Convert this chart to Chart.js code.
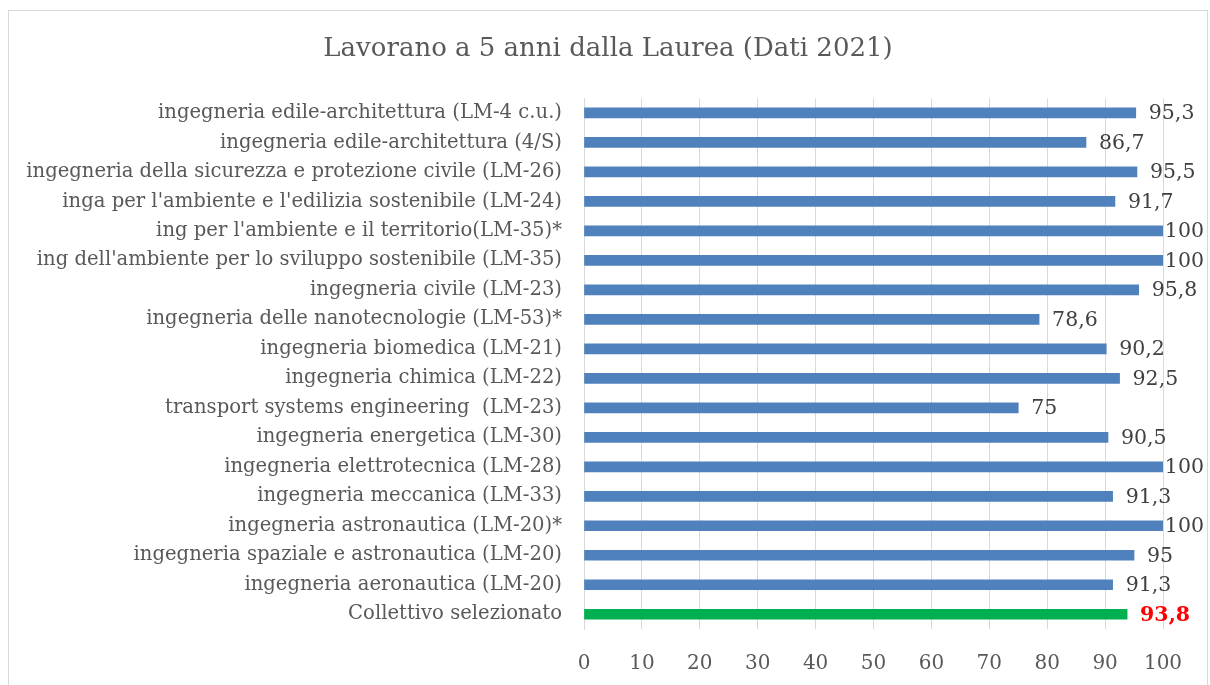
<!DOCTYPE html>
<html>
<head>
<meta charset="utf-8">
<script src="https://cdn.jsdelivr.net/npm/chart.js@4/dist/chart.umd.min.js"></script>
<style>
    html, body { margin: 0; padding: 0; background: #fff; }
    #frame {
        position: absolute; left: 8px; top: 10px;
        width: 1200px; height: 676px;
        border: 1px solid #d9d9d9; box-sizing: border-box;
    }
    #wrap { position: absolute; left: 0; top: 0; width: 1198px; height: 674px; }
</style>
</head>
<body>
<div id="frame"><div id="wrap"><canvas id="lavoroChart"></canvas></div></div>
<script>
// ==========================================
// DATI
// ==========================================

const chartTitle = 'Lavorano a 5 anni dalla Laurea (Dati 2021)';

const corsi = [
    'ingegneria edile-architettura (LM-4 c.u.)',
    'ingegneria edile-architettura (4/S)',
    'ingegneria della sicurezza e protezione civile (LM-26)',
    "inga per l'ambiente e l'edilizia sostenibile (LM-24)",
    "ing per l'ambiente e il territorio(LM-35)*",
    "ing dell'ambiente per lo sviluppo sostenibile (LM-35)",
    'ingegneria civile (LM-23)',
    'ingegneria delle nanotecnologie (LM-53)*',
    'ingegneria biomedica (LM-21)',
    'ingegneria chimica (LM-22)',
    'transport systems engineering  (LM-23)',
    'ingegneria energetica (LM-30)',
    'ingegneria elettrotecnica (LM-28)',
    'ingegneria meccanica (LM-33)',
    'ingegneria astronautica (LM-20)*',
    'ingegneria spaziale e astronautica (LM-20)',
    'ingegneria aeronautica (LM-20)',
    'Collettivo selezionato'
];

const percentuali = [95.3, 86.7, 95.5, 91.7, 100, 100, 95.8, 78.6, 90.2, 92.5, 75, 90.5, 100, 91.3, 100, 95, 91.3, 93.8];

const xTicks = [0, 10, 20, 30, 40, 50, 60, 70, 80, 90, 100];

// ==========================================
// GRAFICO
// ==========================================

const FONT = '"DejaVu Serif", "Liberation Serif", serif';
const BLU = '#4f81bd';
const VERDE = '#00b050';

function fmt(v) {
    return String(v).replace('.', ',');
}

// etichette valore a destra delle barre
const valueLabels = {
    id: 'valueLabels',
    afterDatasetsDraw(chart) {
        const ctx = chart.ctx;
        const meta = chart.getDatasetMeta(0);
        const limit = chart.width - 3;
        ctx.save();
        ctx.textBaseline = 'middle';
        meta.data.forEach((bar, i) => {
            const totale = i === percentuali.length - 1;
            ctx.font = (totale ? 'bold ' : '') + '20.5px ' + FONT;
            ctx.fillStyle = totale ? '#ff0000' : '#404040';
            const txt = fmt(percentuali[i]);
            const w = ctx.measureText(txt).width;
            let x = bar.x + 13;
            if (x + w > limit) x = limit - w;
            ctx.fillText(txt, x, bar.y + 1);
        });
        ctx.restore();
    }
};

const ctx = document.getElementById('lavoroChart').getContext('2d');
const lavoroChart = new Chart(ctx, {
    type: 'bar',
    data: {
        labels: corsi,
        datasets: [{
            data: percentuali,
            backgroundColor: corsi.map((c, i) => i === corsi.length - 1 ? VERDE : BLU),
            barThickness: 10,
            borderWidth: 0
        }]
    },
    options: {
        indexAxis: 'y',
        responsive: true,
        maintainAspectRatio: false,
        animation: false,
        layout: { padding: 0 },
        plugins: {
            legend: { display: false },
            tooltip: { enabled: false },
            title: {
                display: true,
                text: chartTitle,
                color: '#595959',
                font: { family: FONT, size: 26, weight: 'normal' },
                padding: { top: 23, bottom: 33 }
            }
        },
        scales: {
            x: {
                min: 0,
                max: 100,
                afterBuildTicks: (scale) => { scale.ticks = xTicks.map(v => ({ value: v })); },
                afterFit: (scale) => { scale.height = 56; },
                ticks: {
                    color: '#595959',
                    font: { family: FONT, size: 20 },
                    padding: 23
                },
                grid: { color: '#d9d9d9', drawTicks: false },
                border: { display: false }
            },
            y: {
                afterFit: (scale) => { scale.width = 575; },
                ticks: {
                    color: '#595959',
                    font: { family: FONT, size: 19.6 },
                    padding: 22,
                    autoSkip: false
                },
                grid: { display: false, drawTicks: false },
                border: { color: '#d9d9d9' }
            },
            // margine destro per le etichette valore
            yRight: {
                position: 'right',
                afterFit: (scale) => { scale.width = 44; },
                ticks: { display: false },
                grid: { display: false, drawTicks: false },
                border: { display: false }
            }
        }
    },
    plugins: [valueLabels]
});
</script>
</body>
</html>
